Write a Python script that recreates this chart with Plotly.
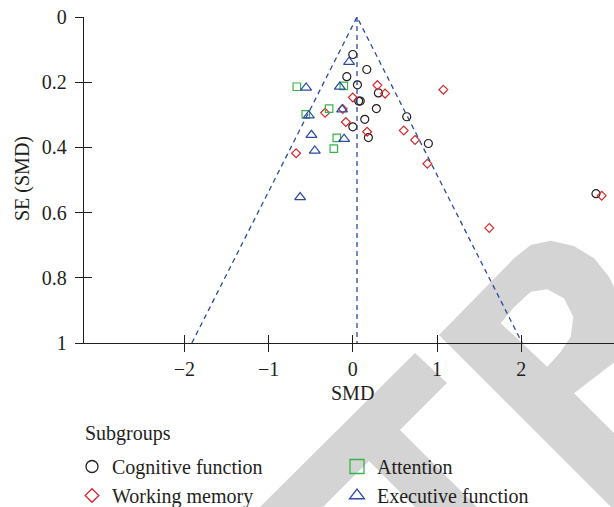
import plotly.graph_objects as go

# ---------------- data ----------------
cog_smd = [0.0, 0.166, -0.071, 0.055, 0.304, 0.07, 0.088, 0.28, 0.142, 0.0, 0.185, 0.64, 0.897, 2.886]
cog_se = [0.115, 0.161, 0.183, 0.208, 0.233, 0.258, 0.258, 0.281, 0.314, 0.337, 0.370, 0.306, 0.388, 0.542]

wm_smd = [0.292, 0.383, 0.0, -0.119, -0.329, -0.083, 0.170, 0.605, 0.739, -0.673, 0.885, 1.075, 1.62, 2.954]
wm_se = [0.209, 0.235, 0.247, 0.282, 0.294, 0.322, 0.352, 0.348, 0.377, 0.418, 0.450, 0.223, 0.647, 0.548]

att_smd = [-0.664, -0.107, -0.281, -0.558, -0.190, -0.225]
att_se = [0.214, 0.211, 0.281, 0.299, 0.371, 0.404]

ef_smd = [-0.044, -0.554, -0.154, -0.522, -0.127, -0.491, -0.103, -0.451, -0.625]
ef_se = [0.138, 0.217, 0.214, 0.302, 0.284, 0.362, 0.374, 0.410, 0.553]

pooled_smd = 0.05
z_crit = 1.96

x_tickvals = [-2, -1, 0, 1, 2]
x_ticktext = ["\u22122", "\u22121", "0", "1", "2"]
y_tickvals = [0, 0.2, 0.4, 0.6, 0.8, 1]
y_ticktext = ["0", "0.2", "0.4", "0.6", "0.8", "1"]

group_names = ["Cognitive function", "Working memory", "Attention", "Executive function"]

# ---------------- styling ----------------
W, H = 614, 507
ML, MR, MT, MB = 84, 0, 17, 164
PW, PH = W - ML - MR, H - MT - MB
FONT = "Liberation Serif, Times New Roman, serif"
TXT = "#231f20"
BLACK = "#231f20"
RED = "#d9262c"
GREEN = "#35b549"
BLUE = "#2a4ba0"
XR = [-3.19, 3.10]
YR = [1, 0]


def px2paper(px, py):
    return (px - ML) / PW, (H - MB - py) / PH


def path_from(points, close=True):
    s = ""
    for i, (a, b) in enumerate(points):
        xp, yp = px2paper(a, b)
        s += ("M" if i == 0 else "L") + f"{xp:.4f},{yp:.4f} "
    return s + ("Z " if close else "")


fig = go.Figure()

# funnel lines (drawn on the overlay subplot, same scales)
se_line = [0, 1]
fig.add_trace(go.Scatter(x=[pooled_smd, pooled_smd], y=se_line, mode="lines",
                         line=dict(color=BLUE, width=1.3, dash="5px,4px"),
                         xaxis="x2", yaxis="y2", showlegend=False, hoverinfo="skip"))
fig.add_trace(go.Scatter(x=[pooled_smd - z_crit * s for s in [1, 0]] + [pooled_smd + z_crit * s for s in [0, 1]],
                         y=[1, 0, 0, 1], mode="lines",
                         line=dict(color=BLUE, width=1.3, dash="5px,4px"),
                         xaxis="x2", yaxis="y2", showlegend=False, hoverinfo="skip"))

specs = [
    (cog_smd, cog_se, "circle-open", BLACK, 8, 12, "legend"),
    (wm_smd, wm_se, "diamond-open", RED, 6.8, 10.5, "legend"),
    (att_smd, att_se, "square-open", GREEN, 7.5, 14, "legend2"),
    (ef_smd, ef_se, "triangle-up-open", BLUE, 9.5, 13, "legend2"),
]
for (xs, ys, sym, col, sz, lsz, leg), name in zip(specs, group_names):
    fig.add_trace(go.Scatter(x=xs, y=ys, mode="markers", name=name, showlegend=False,
                             marker=dict(symbol=sym, size=sz, color=col, line=dict(color=col, width=1.2))))
    fig.add_trace(go.Scatter(x=[None], y=[None], mode="markers", name=name, legend=leg,
                             marker=dict(symbol=sym, size=lsz, color=col, line=dict(color=col, width=1.3))))

axis_common = dict(showgrid=False, zeroline=False, showline=True, linecolor=TXT, linewidth=1.3,
                   ticklen=8, tickwidth=1.3, tickcolor=TXT,
                   tickfont=dict(family=FONT, size=20, color=TXT))

fig.update_layout(
    width=W, height=H,
    margin=dict(l=ML, r=MR, t=MT, b=MB, pad=0, autoexpand=False),
    paper_bgcolor="white", plot_bgcolor="white",
    font=dict(family=FONT, size=20, color=TXT),
    xaxis=dict(range=XR, tickvals=x_tickvals, ticktext=x_ticktext, ticks="outside", **axis_common),
    yaxis=dict(range=YR, tickvals=y_tickvals, ticktext=y_ticktext, ticks="outside",
               ticklabelstandoff=4, **axis_common),
    xaxis2=dict(range=XR, overlaying="x", anchor="y2", tickvals=x_tickvals, ticks="inside",
                showticklabels=False, showgrid=False, zeroline=False, showline=False,
                ticklen=8, tickwidth=1.3, tickcolor=TXT),
    yaxis2=dict(range=YR, overlaying="y", anchor="x2", tickvals=y_tickvals, ticks="inside",
                showticklabels=False, showgrid=False, zeroline=False, showline=False,
                ticklen=8, tickwidth=1.3, tickcolor=TXT),
    legend=dict(x=px2paper(72, 0)[0], y=px2paper(0, 447)[1], xanchor="left", yanchor="top",
                bgcolor="rgba(0,0,0,0)", font=dict(family=FONT, size=20, color=TXT), tracegroupgap=0),
    legend2=dict(x=px2paper(337, 0)[0], y=px2paper(0, 447)[1], xanchor="left", yanchor="top",
                 bgcolor="rgba(0,0,0,0)", font=dict(family=FONT, size=20, color=TXT), tracegroupgap=0),
    showlegend=True,
)

# axis titles and legend heading
fig.add_annotation(text="SMD", xref="paper", yref="paper", x=px2paper(352.7, 0)[0], y=px2paper(0, 393)[1],
                   showarrow=False, xanchor="center", yanchor="middle", font=dict(family=FONT, size=20, color=TXT))
fig.add_annotation(text="SE (SMD)", xref="paper", yref="paper", x=px2paper(22, 0)[0], y=px2paper(0, 179)[1],
                   showarrow=False, textangle=-90, xanchor="center", yanchor="middle",
                   font=dict(family=FONT, size=20, color=TXT))
fig.add_annotation(text="Subgroups", xref="paper", yref="paper", x=px2paper(83, 0)[0], y=px2paper(0, 433)[1],
                   showarrow=False, xanchor="left", yanchor="middle", font=dict(family=FONT, size=20, color=TXT))

# light-grey watermark (decoration, behind everything)
wm_T = [(255, 512), (415, 353), (447, 383), (400, 430), (482, 512), (420, 512), (369, 461), (318, 512)]
wm_R_outer = [(439, 335), (514, 258.3), (530.7, 245), (550.7, 240.7), (574, 246), (594, 258.3), (609, 276.7),
              (620, 300), (620, 358), (574, 393.3), (620, 439), (630, 520), (624, 520)]
wm_R_hole = [(500.7, 323.3), (514, 307.3), (530.7, 291.7), (547.3, 289.3), (564, 298.3), (573.3, 316.7),
             (570.7, 336.7), (560.7, 351.7), (547.3, 366.7)]
for p in [path_from(wm_T), path_from(wm_R_outer) + path_from(wm_R_hole[::-1])]:
    fig.add_shape(type="path", path=p, xref="paper", yref="paper", layer="below",
                  fillcolor="#d4d4d4", line=dict(width=0))

fig.write_html("out.html")
